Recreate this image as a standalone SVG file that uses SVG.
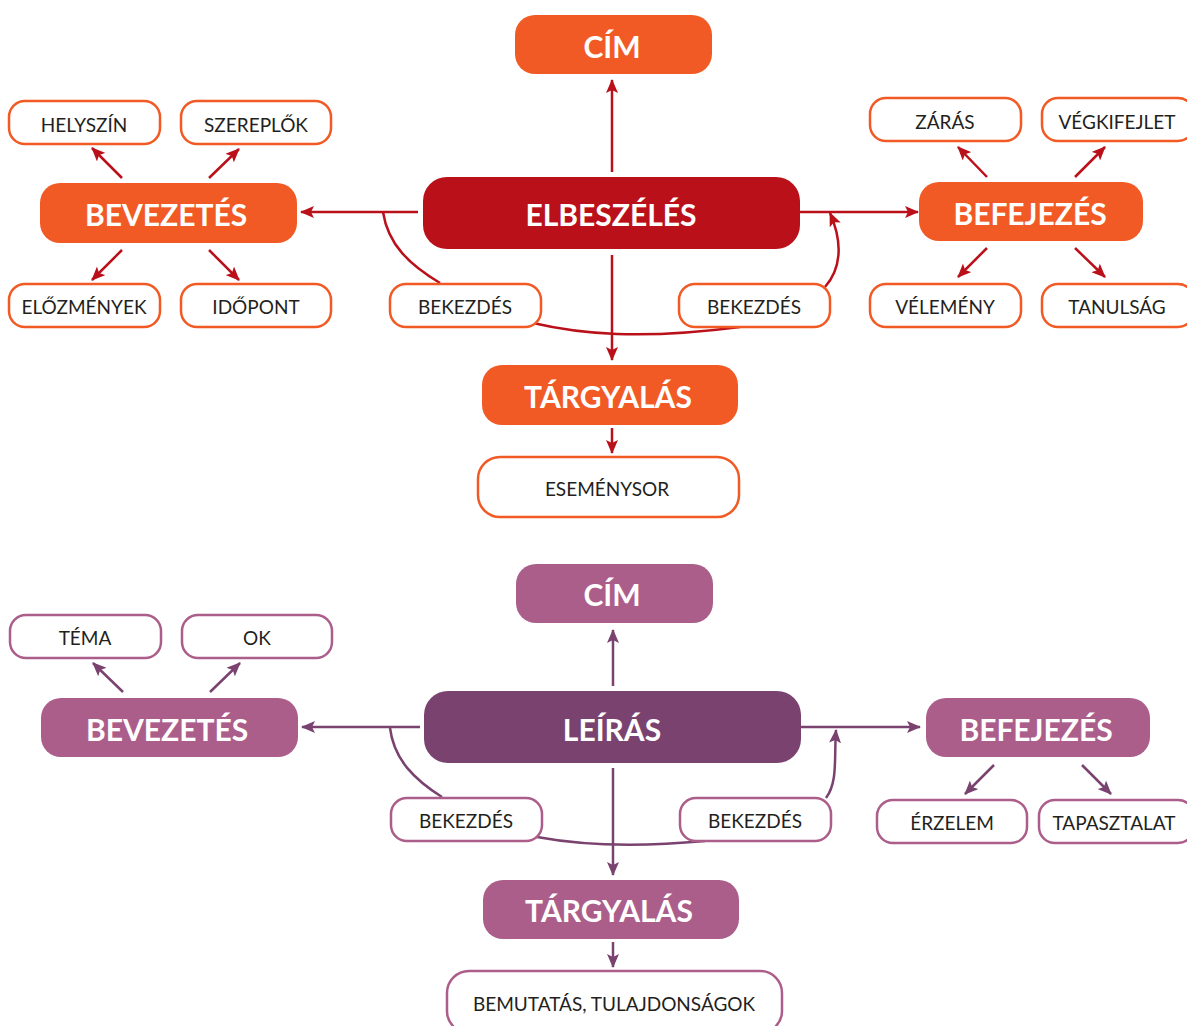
<svg xmlns="http://www.w3.org/2000/svg" width="1187" height="1026" viewBox="0 0 1187 1026">
<style>
.bigO{fill:#F15A24}
.bigR{fill:#BA101A}
.bigP{fill:#AC5E8B}
.bigD{fill:#79426F}
.boxO{fill:#fff;stroke:#F15A24;stroke-width:2.5}
.boxP{fill:#fff;stroke:#AC5E8B;stroke-width:2.5}
.t{font-family:Lato,"Liberation Sans",sans-serif;font-size:19px;fill:#231F20;text-anchor:middle;dominant-baseline:central}
.T{font-family:Lato,"Liberation Sans",sans-serif;font-size:30px;font-weight:bold;fill:#fff;text-anchor:middle;dominant-baseline:central}
.cR{fill:none;stroke:#BA101A;stroke-width:2.5}
.cP{fill:none;stroke:#79426F;stroke-width:2.5}
</style>
<defs>
<marker id="aR" markerUnits="userSpaceOnUse" markerWidth="14" markerHeight="12" refX="13" refY="6" orient="auto"><path d="M0,0 L14,6 L0,12 L3,6 Z" fill="#BA101A"/></marker>
<marker id="aP" markerUnits="userSpaceOnUse" markerWidth="14" markerHeight="12" refX="13" refY="6" orient="auto"><path d="M0,0 L14,6 L0,12 L3,6 Z" fill="#79426F"/></marker>
</defs>

<g id="connectors">
<path class="cR" marker-end="url(#aR)" d="M612,172 L612,80"/>
<path class="cR" marker-end="url(#aR)" d="M418,212 L301,212"/>
<path class="cR" marker-end="url(#aR)" d="M800,212 L918,212"/>
<path class="cR" marker-end="url(#aR)" d="M612,255 L612,360"/>
<path class="cR" marker-end="url(#aR)" d="M612,428 L612,453"/>
<path class="cR" marker-end="url(#aR)" d="M122,178 L92,148"/>
<path class="cR" marker-end="url(#aR)" d="M209,178 L239,149"/>
<path class="cR" marker-end="url(#aR)" d="M122,250 L92,280"/>
<path class="cR" marker-end="url(#aR)" d="M209,250 L239,280"/>
<path class="cR" marker-end="url(#aR)" d="M987,177 L958,147"/>
<path class="cR" marker-end="url(#aR)" d="M1075,177 L1105,147"/>
<path class="cR" marker-end="url(#aR)" d="M987,248 L958,277"/>
<path class="cR" marker-end="url(#aR)" d="M1075,248 L1105,277"/>
<path class="cR" d="M383,212 C388,245 410,265 440,283"/>
<path class="cR" d="M533,323 C580,334 640,340 740,327"/>
<path class="cR" marker-end="url(#aR)" d="M825,287 C840,270 844,245 830,213"/>
<path class="cP" marker-end="url(#aP)" d="M613,686 L613,630"/>
<path class="cP" marker-end="url(#aP)" d="M420,727 L302,727"/>
<path class="cP" marker-end="url(#aP)" d="M801,727 L920,727"/>
<path class="cP" marker-end="url(#aP)" d="M613,768 L613,875"/>
<path class="cP" marker-end="url(#aP)" d="M613,942 L613,967"/>
<path class="cP" marker-end="url(#aP)" d="M123,692 L93,663"/>
<path class="cP" marker-end="url(#aP)" d="M210,692 L240,663"/>
<path class="cP" marker-end="url(#aP)" d="M994,765 L965,794"/>
<path class="cP" marker-end="url(#aP)" d="M1082,765 L1111,794"/>
<path class="cP" d="M390,728 C394,760 415,780 442,797"/>
<path class="cP" d="M537,837 C580,845 640,847 705,841"/>
<path class="cP" marker-end="url(#aP)" d="M826,798 C838,782 834,758 836,730"/>
</g>

<g id="n-cim1"><rect class="bigO" x="515" y="15" width="197" height="59" rx="20"/><text class="T" x="612" y="46" font-size="28">CÍM</text></g>
<g id="n-elbeszeles"><rect class="bigR" x="423" y="177" width="377" height="72" rx="24"/><text class="T" x="611" y="214">ELBESZÉLÉS</text></g>
<g id="n-bevezetes1"><rect class="bigO" x="40" y="183" width="257" height="60" rx="20"/><text class="T" x="166" y="214">BEVEZETÉS</text></g>
<g id="n-befejezes1"><rect class="bigO" x="919" y="182" width="224" height="59" rx="20"/><text class="T" x="1030" y="213">BEFEJEZÉS</text></g>
<g id="n-targyalas1"><rect class="bigO" x="482" y="365" width="256" height="60" rx="20"/><text class="T" x="608" y="396">TÁRGYALÁS</text></g>
<g id="n-helyszin"><rect class="boxO" x="9" y="101" width="151" height="43" rx="16"/><text class="t" x="84" y="124">HELYSZÍN</text></g>
<g id="n-szereplok"><rect class="boxO" x="181" y="101" width="150" height="43" rx="16"/><text class="t" x="256" y="124">SZEREPLŐK</text></g>
<g id="n-elozmenyek"><rect class="boxO" x="9" y="284" width="151" height="43" rx="16"/><text class="t" x="84" y="306">ELŐZMÉNYEK</text></g>
<g id="n-idopont"><rect class="boxO" x="181" y="284" width="150" height="43" rx="16"/><text class="t" x="256" y="306">IDŐPONT</text></g>
<g id="n-zaras"><rect class="boxO" x="870" y="98" width="151" height="43" rx="16"/><text class="t" x="945" y="121">ZÁRÁS</text></g>
<g id="n-vegkifejlet"><rect class="boxO" x="1042" y="98" width="152" height="43" rx="16"/><text class="t" x="1117" y="121">VÉGKIFEJLET</text></g>
<g id="n-velemeny"><rect class="boxO" x="870" y="284" width="151" height="43" rx="16"/><text class="t" x="945" y="306">VÉLEMÉNY</text></g>
<g id="n-tanulsag"><rect class="boxO" x="1042" y="284" width="152" height="43" rx="16"/><text class="t" x="1117" y="306">TANULSÁG</text></g>
<g id="n-bekezdes1"><rect class="boxO" x="390" y="284" width="151" height="43" rx="16"/><text class="t" x="465" y="306">BEKEZDÉS</text></g>
<g id="n-bekezdes2"><rect class="boxO" x="679" y="284" width="151" height="43" rx="16"/><text class="t" x="754" y="306">BEKEZDÉS</text></g>
<g id="n-esemenysor"><rect class="boxO" x="478" y="457" width="261" height="60" rx="22"/><text class="t" x="607" y="488">ESEMÉNYSOR</text></g>

<g id="n-cim2"><rect class="bigP" x="516" y="564" width="197" height="59" rx="20"/><text class="T" x="612" y="594" font-size="28">CÍM</text></g>
<g id="n-leiras"><rect class="bigD" x="424" y="691" width="377" height="72" rx="24"/><text class="T" x="612" y="729">LEÍRÁS</text></g>
<g id="n-bevezetes2"><rect class="bigP" x="41" y="698" width="257" height="59" rx="20"/><text class="T" x="167" y="729">BEVEZETÉS</text></g>
<g id="n-befejezes2"><rect class="bigP" x="926" y="698" width="224" height="59" rx="20"/><text class="T" x="1036" y="729">BEFEJEZÉS</text></g>
<g id="n-targyalas2"><rect class="bigP" x="483" y="880" width="256" height="59" rx="20"/><text class="T" x="609" y="910">TÁRGYALÁS</text></g>
<g id="n-tema"><rect class="boxP" x="10" y="615" width="151" height="43" rx="16"/><text class="t" x="85" y="637">TÉMA</text></g>
<g id="n-ok"><rect class="boxP" x="182" y="615" width="150" height="43" rx="16"/><text class="t" x="257" y="637">OK</text></g>
<g id="n-erzelem"><rect class="boxP" x="877" y="800" width="150" height="43" rx="16"/><text class="t" x="952" y="822">ÉRZELEM</text></g>
<g id="n-tapasztalat"><rect class="boxP" x="1039" y="800" width="155" height="43" rx="16"/><text class="t" x="1114" y="822">TAPASZTALAT</text></g>
<g id="n-bekezdes3"><rect class="boxP" x="391" y="798" width="151" height="43" rx="16"/><text class="t" x="466" y="820">BEKEZDÉS</text></g>
<g id="n-bekezdes4"><rect class="boxP" x="680" y="798" width="151" height="43" rx="16"/><text class="t" x="755" y="820">BEKEZDÉS</text></g>
<g id="n-bemutatas"><rect class="boxP" x="447" y="971" width="335" height="62" rx="22"/><text class="t" x="614" y="1003">BEMUTATÁS, TULAJDONSÁGOK</text></g>
</svg>
